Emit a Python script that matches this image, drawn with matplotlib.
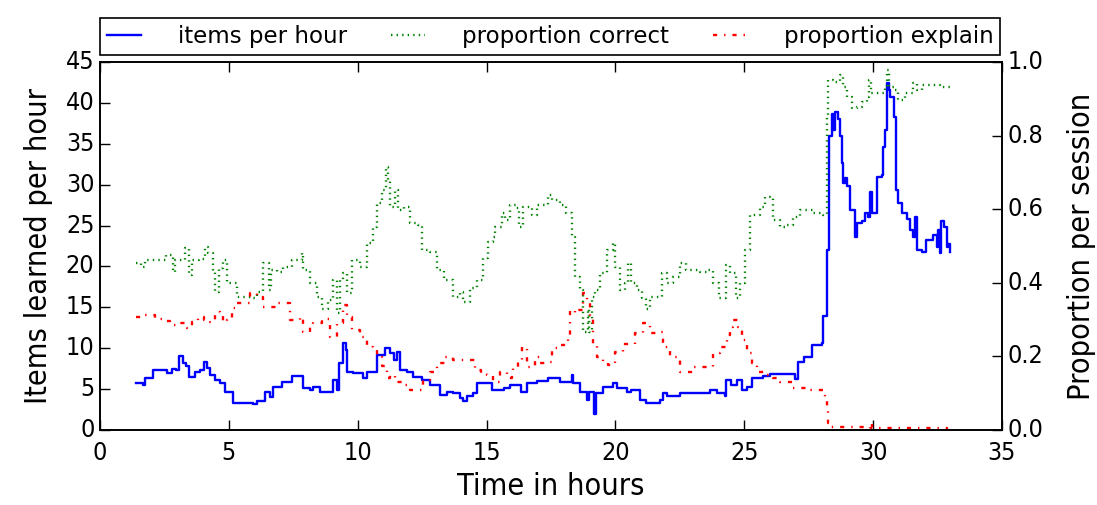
import matplotlib
matplotlib.use('Agg')
import matplotlib.pyplot as plt

plt.style.use('classic')

# items per hour (left axis)
t_items = [1.40, 1.68, 1.75, 2.07, 2.26, 2.59, 2.78, 2.95, 3.08, 3.23, 3.35, 3.47, 3.67, 3.88,
           4.05, 4.15, 4.27, 4.46, 4.66, 4.85, 5.17, 5.95, 6.08, 6.40, 6.60, 6.72, 7.05, 7.44,
           7.83, 7.89, 8.15, 8.28, 8.54, 8.93, 9.05, 9.18, 9.29, 9.42, 9.55, 9.57, 9.83, 10.22,
           10.35, 10.67, 10.74, 11.06, 11.26, 11.40, 11.51, 11.64, 11.90, 12.16, 12.48, 12.80,
           13.19, 13.46, 13.70, 13.97, 14.10, 14.23, 14.49, 14.62, 15.00, 15.20, 15.67, 15.91,
           16.35, 16.56, 16.95, 17.40, 17.85, 18.30, 18.35, 18.63, 18.88, 18.98, 19.17, 19.25,
           19.53, 19.92, 20.05, 20.44, 20.62, 20.95, 21.20, 21.73, 21.86, 22.00, 22.50, 23.54,
           23.67, 23.93, 24.25, 24.30, 24.50, 24.70, 24.90, 25.10, 25.29, 25.74, 26.00, 26.58,
           26.97, 27.10, 27.30, 27.62, 28.00, 28.07, 28.20, 28.27, 28.30, 28.39, 28.45, 28.52,
           28.65, 28.72, 28.78, 28.84, 28.90, 28.98, 29.10, 29.30, 29.38, 29.55, 29.68, 29.80,
           29.88, 29.94, 30.14, 30.33, 30.40, 30.46, 30.53, 30.60, 30.66, 30.79, 30.89, 30.98,
           31.11, 31.30, 31.43, 31.56, 31.62, 31.69, 31.88, 32.07, 32.33, 32.46, 32.52, 32.60,
           32.65, 32.75, 32.85, 32.92, 32.98]
items = [5.7, 5.5, 6.3, 7.3, 7.3, 7.0, 7.5, 7.3, 9.0, 8.15, 7.8, 6.5, 7.1, 7.3,
         8.35, 7.6, 6.7, 6.1, 5.7, 4.7, 3.3, 3.2, 3.6, 4.7, 4.0, 5.3, 5.9, 6.6,
         6.6, 5.1, 4.9, 5.3, 4.7, 4.7, 6.1, 4.9, 8.15, 10.7, 9.8, 7.1, 7.0, 6.3,
         7.1, 7.1, 9.2, 10.0, 9.4, 8.6, 9.6, 7.3, 7.1, 6.5, 6.1, 5.5,
         4.3, 4.7, 4.5, 3.9, 3.5, 4.1, 4.5, 5.8, 5.8, 4.9, 5.1, 5.5,
         4.7, 5.8, 6.0, 6.3, 5.9, 6.7, 5.7, 4.7, 3.7, 4.7, 2.0, 4.5,
         5.3, 5.8, 5.1, 4.7, 4.9, 3.7, 3.3, 3.7, 4.5, 4.1, 4.5, 4.5,
         4.9, 4.5, 4.1, 6.1, 5.5, 6.1, 4.9, 5.3, 6.3, 6.6, 6.9, 6.9,
         6.2, 8.35, 8.9, 10.4, 10.7, 13.9, 22.0, 30.0, 35.9, 38.7, 36.7, 38.9,
         38.0, 35.9, 32.6, 30.2, 30.8, 29.8, 26.9, 23.6, 25.3, 25.5, 26.5, 26.1,
         29.1, 26.5, 31.0, 31.2, 34.6, 36.7, 42.4, 41.6, 40.7, 38.3, 29.3, 27.7,
         26.5, 25.8, 24.5, 23.6, 26.1, 22.0, 21.8, 23.2, 23.8, 22.4, 24.5, 21.6,
         25.5, 24.8, 22.4, 22.8, 21.8]

# proportion correct (right axis)
t_correct = [1.40, 1.60, 1.75, 2.40, 2.55, 2.85, 2.90, 3.30, 3.47, 3.55, 3.85, 4.07, 4.20, 4.40,
             4.45, 4.60, 4.79, 4.92, 5.30, 5.95, 6.08, 6.34, 6.54, 6.65, 6.85, 7.11, 7.44, 7.83,
             7.89, 8.15, 8.41, 8.60, 8.85, 9.05, 9.18, 9.30, 9.44, 9.57, 9.77, 10.09, 10.35, 10.60,
             10.74, 10.93, 11.10, 11.18, 11.25, 11.45, 11.58, 11.80, 12.03, 12.35, 12.48, 12.80,
             13.07, 13.33, 13.71, 13.97, 14.10, 14.36, 14.62, 14.87, 15.07, 15.26, 15.33, 15.59,
             15.72, 15.91, 16.15, 16.27, 16.40, 16.75, 16.95, 17.40, 17.53, 17.85, 18.10, 18.30,
             18.43, 18.63, 18.76, 18.93, 18.99, 19.08, 19.20, 19.40, 19.66, 19.89, 20.00, 20.18,
             20.37, 20.50, 20.62, 20.82, 21.02, 21.20, 21.33, 21.73, 21.80, 21.99, 22.25, 22.50,
             22.75, 23.28, 23.60, 23.80, 24.00, 24.25, 24.30, 24.43, 24.67, 24.85, 25.03, 25.22,
             25.61, 25.80, 25.99, 26.13, 26.39, 26.65, 26.90, 27.16, 27.68, 28.07, 28.20, 28.26,
             28.46, 28.72, 28.84, 28.98, 29.17, 29.36, 29.56, 29.75, 29.84, 29.90, 30.20, 30.45,
             30.55, 30.62, 30.80, 30.98, 31.24, 31.56, 31.69, 31.88, 32.34, 32.60, 32.98]
correct = [0.453, 0.444, 0.462, 0.462, 0.476, 0.430, 0.462, 0.494, 0.420, 0.462, 0.466, 0.498, 0.480, 0.430,
           0.376, 0.440, 0.462, 0.399, 0.362, 0.358, 0.376, 0.453, 0.380, 0.435, 0.430, 0.444, 0.462, 0.480,
           0.435, 0.399, 0.362, 0.330, 0.353, 0.408, 0.317, 0.408, 0.426, 0.372, 0.462, 0.444, 0.507, 0.552,
           0.616, 0.652, 0.716, 0.680, 0.607, 0.652, 0.598, 0.607, 0.562, 0.556, 0.489, 0.485,
           0.435, 0.408, 0.362, 0.376, 0.348, 0.385, 0.408, 0.467, 0.512, 0.525, 0.552, 0.589,
           0.571, 0.611, 0.602, 0.552, 0.607, 0.585, 0.611, 0.639, 0.625, 0.611, 0.589, 0.525,
           0.417, 0.380, 0.267, 0.330, 0.267, 0.362, 0.380, 0.426, 0.489, 0.507, 0.444, 0.380,
           0.399, 0.453, 0.399, 0.380, 0.358, 0.330, 0.362, 0.362, 0.426, 0.399, 0.417, 0.453,
           0.435, 0.430, 0.435, 0.399, 0.358, 0.358, 0.448, 0.426, 0.358, 0.399, 0.489, 0.584,
           0.607, 0.634, 0.630, 0.571, 0.552, 0.556, 0.580, 0.598, 0.589, 0.584, 0.851, 0.951,
           0.946, 0.965, 0.933, 0.906, 0.874, 0.879, 0.892, 0.906, 0.951, 0.915, 0.915, 0.930,
           0.978, 0.933, 0.925, 0.897, 0.915, 0.942, 0.924, 0.938, 0.938, 0.933, 0.931]

# proportion explain (right axis)
t_explain = [1.40, 1.75, 2.13, 2.50, 2.72, 3.05, 3.36, 3.55, 3.82, 4.05, 4.27, 4.46, 4.65, 4.79,
             4.92, 5.11, 5.30, 5.82, 6.08, 6.33, 6.65, 6.86, 7.11, 7.37, 7.76, 7.89, 8.15, 8.28,
             8.60, 8.93, 9.18, 9.44, 9.57, 9.77, 10.09, 10.35, 10.60, 10.74, 10.93, 11.13, 11.26,
             11.45, 11.71, 12.03, 12.29, 12.55, 12.80, 13.07, 13.39, 13.71, 14.36, 14.55, 14.80,
             15.00, 15.26, 15.52, 15.78, 15.97, 16.04, 16.23, 16.36, 16.56, 16.75, 16.88, 17.07,
             17.40, 17.53, 17.85, 18.17, 18.24, 18.43, 18.56, 18.75, 18.88, 19.03, 19.14, 19.27,
             19.53, 19.72, 19.98, 20.30, 20.62, 20.76, 21.08, 21.33, 21.66, 21.86, 22.12, 22.37,
             22.50, 23.02, 23.54, 23.80, 24.06, 24.32, 24.45, 24.58, 24.77, 24.90, 25.10, 25.29,
             25.48, 25.80, 26.13, 26.39, 26.90, 27.55, 27.90, 28.13, 28.20, 28.26, 28.35, 29.80,
             29.88, 29.95, 32.85]
explain = [0.308, 0.312, 0.303, 0.297, 0.285, 0.290, 0.276, 0.294, 0.308, 0.298, 0.294, 0.321, 0.318, 0.294,
           0.299, 0.331, 0.344, 0.371, 0.362, 0.335, 0.335, 0.344, 0.344, 0.299, 0.308, 0.267, 0.285, 0.290,
           0.303, 0.254, 0.290, 0.340, 0.308, 0.272, 0.254, 0.226, 0.222, 0.199, 0.175, 0.140, 0.150,
           0.131, 0.123, 0.109, 0.109, 0.136, 0.158, 0.181, 0.199, 0.190, 0.190, 0.163, 0.154,
           0.149, 0.131, 0.158, 0.140, 0.158, 0.172, 0.186, 0.226, 0.172, 0.172, 0.199, 0.181,
           0.186, 0.222, 0.231, 0.254, 0.326, 0.317, 0.326, 0.371, 0.344, 0.308, 0.235, 0.199,
           0.186, 0.177, 0.213, 0.235, 0.235, 0.263, 0.290, 0.263, 0.267, 0.226, 0.199, 0.190,
           0.158, 0.170, 0.172, 0.208, 0.226, 0.258, 0.281, 0.299, 0.281, 0.245, 0.208, 0.181,
           0.158, 0.149, 0.140, 0.131, 0.113, 0.109, 0.109, 0.090, 0.054, 0.018, 0.008, 0.006,
           0.020, 0.006, 0.004]

tick_font = dict(family='DejaVu Sans', stretch='condensed', size=18)

fig = plt.figure(figsize=(10.97, 5.05), dpi=100, facecolor='white')
ax = fig.add_axes([0.0912, 0.1485, 0.8222, 0.7287])
ax2 = ax.twinx()

l1, = ax.plot(t_items, items, color='b', lw=1.7, drawstyle='steps-post', label='items per hour')
l2, = ax2.plot(t_correct, correct, color='g', lw=1.7, ls=':', drawstyle='steps-post',
               label='proportion correct')
l3, = ax2.plot(t_explain, explain, color='r', lw=1.7, ls='-.', drawstyle='steps-post',
               label='proportion explain')

ax.set_xlim(0, 35)
ax.set_ylim(0, 45)
ax2.set_ylim(0, 1.0)
ax.set_xticks(range(0, 36, 5))
ax.set_yticks(range(0, 46, 5))
ax2.set_yticks([0.0, 0.2, 0.4, 0.6, 0.8, 1.0])

ax.tick_params(axis='y', which='both', left=True, right=False, direction='in', length=7, width=1)
ax.tick_params(axis='x', which='both', top=True, bottom=True, direction='in', length=7, width=1, pad=8)
ax2.tick_params(axis='y', which='both', left=False, right=True, direction='in', length=7, width=1)
for a in (ax, ax2):
    for lab in a.get_xticklabels() + a.get_yticklabels():
        lab.set_fontproperties(tick_font)
    for sp in a.spines.values():
        sp.set_linewidth(1.2)

lab_font = dict(family='DejaVu Sans', stretch='condensed', size=22)
ax.set_xlabel('Time in hours', fontdict=lab_font, labelpad=5)
ax.set_ylabel('Items learned per hour', fontdict=lab_font, labelpad=9)
ax2.set_ylabel('Proportion per session', fontdict=lab_font, labelpad=17)

leg = ax.legend([l1, l2, l3], [l.get_label() for l in (l1, l2, l3)],
                loc='lower left', bbox_to_anchor=(0, 1.019, 0.998, 0.1), mode='expand',
                ncol=3, borderaxespad=0, handlelength=1.5, fontsize=16.5, numpoints=1,
                fancybox=False, borderpad=0.3, handletextpad=1.6)
leg.get_frame().set_edgecolor('black')
leg.get_frame().set_linewidth(1.2)

fig.savefig('out.png', dpi=100, facecolor='white')
